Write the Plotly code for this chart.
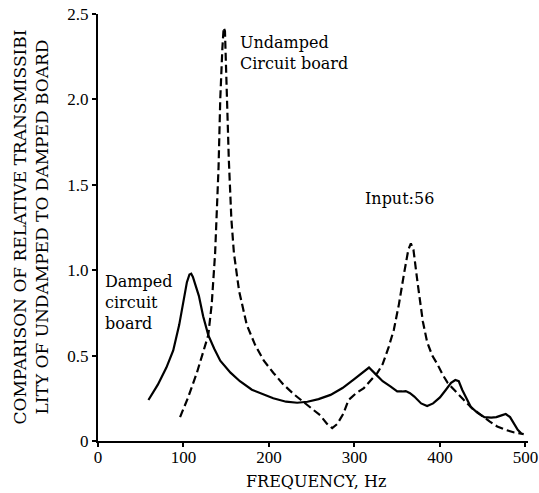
import plotly.graph_objects as go

# Damped circuit board (solid)
damped_freq = [59, 70, 80, 88, 95, 100, 104, 107, 109, 111, 114, 118, 123, 129, 136, 143,
               155, 166, 180, 194, 205, 220, 233, 245, 258, 272, 286, 299, 310, 317, 325,
               333, 342, 350, 356, 360, 365, 370, 378, 385, 392, 400, 407, 413, 418, 422,
               426, 431, 436, 444, 452, 460, 466, 472, 477, 482, 487, 491, 495]
damped_val = [0.24, 0.33, 0.43, 0.53, 0.68, 0.82, 0.93, 0.975, 0.98, 0.96, 0.91, 0.85, 0.73,
              0.62, 0.54, 0.47, 0.40, 0.35, 0.30, 0.27, 0.25, 0.23, 0.224, 0.23, 0.245, 0.27,
              0.31, 0.36, 0.40, 0.43, 0.39, 0.35, 0.32, 0.29, 0.29, 0.292, 0.28, 0.26, 0.22,
              0.205, 0.22, 0.255, 0.30, 0.34, 0.357, 0.35, 0.30, 0.25, 0.20, 0.165, 0.14,
              0.137, 0.14, 0.15, 0.158, 0.14, 0.095, 0.065, 0.045]

# Undamped circuit board (dashed)
undamped_freq = [96, 105, 115.7, 122, 129, 133, 137, 141, 143, 145.5, 147, 148.5, 150.8, 153,
                 156, 159, 165, 174, 184, 194, 205, 217, 230, 243, 252, 260, 268, 274, 280,
                 287, 293, 302, 311, 320, 327, 333, 340, 346, 352, 358, 363, 366, 369, 374,
                 380, 385, 391, 397, 403, 409, 418, 428, 438, 448, 458, 467, 477, 487, 498]
undamped_val = [0.14, 0.25, 0.40, 0.50, 0.62, 0.80, 1.10, 1.60, 2.00, 2.30, 2.42, 2.40, 2.00,
                1.65, 1.30, 1.10, 0.88, 0.68, 0.56, 0.47, 0.40, 0.33, 0.27, 0.22, 0.18, 0.15,
                0.10, 0.075, 0.10, 0.16, 0.24, 0.28, 0.31, 0.36, 0.40, 0.45, 0.55, 0.65, 0.80,
                0.98, 1.12, 1.157, 1.12, 0.92, 0.70, 0.58, 0.50, 0.45, 0.39, 0.34, 0.29, 0.24,
                0.19, 0.15, 0.115, 0.085, 0.065, 0.05, 0.04]

x_ticks = [0, 100, 200, 300, 400, 500]
y_ticks = [0, 0.5, 1.0, 1.5, 2.0, 2.5]
y_tick_labels = ["0", "0.5", "1.0", "1.5", "2.0", "2.5"]

FONT = "DejaVu Serif"
TICK_FONT = dict(family="Liberation Serif", size=17, color="black")

fig = go.Figure()
fig.add_trace(go.Scatter(x=damped_freq, y=damped_val, mode="lines",
                         line=dict(color="black", width=2.2)))
fig.add_trace(go.Scatter(x=undamped_freq, y=undamped_val, mode="lines",
                         line=dict(color="black", width=2.2, dash="8px,4px")))

fig.update_layout(
    width=539, height=493,
    margin=dict(l=98, r=11, t=14, b=52, autoexpand=False),
    paper_bgcolor="white", plot_bgcolor="white",
    showlegend=False,
    font=dict(family=FONT, color="black", size=15),
    xaxis=dict(range=[0, 503], tickvals=x_ticks, showgrid=False, zeroline=False,
               automargin=False,
               showline=True, linecolor="black", linewidth=2,
               ticks="outside", ticklen=4, tickwidth=1.5, tickcolor="black",
               ticklabelstandoff=-4, ticklabeloverflow="allow",
               tickfont=TICK_FONT),
    yaxis=dict(range=[0, 2.5], tickvals=y_ticks, ticktext=y_tick_labels,
               showgrid=False, zeroline=False, automargin=False,
               showline=True, linecolor="black", linewidth=2,
               ticks="outside", ticklen=4, tickwidth=1.5, tickcolor="black",
               tickfont=TICK_FONT),
)

annotations = [
    dict(x=163.7, y=2.40, xref="x", yref="y", text="Undamped<br>Circuit board",
         xanchor="left", yanchor="top", align="left", showarrow=False,
         font=dict(family=FONT, size=16)),
    dict(x=310, y=1.42, xref="x", yref="y", text="Input:56",
         xanchor="left", yanchor="middle", align="left", showarrow=False,
         font=dict(family=FONT, size=16)),
    dict(x=5.8, y=1.0, xref="x", yref="y", text="Damped<br>circuit<br>board",
         xanchor="left", yanchor="top", align="left", showarrow=False,
         font=dict(family=FONT, size=16)),
    dict(x=(316 - 98) / 430, y=-(481 - 441) / 427, xref="paper", yref="paper",
         text="FREQUENCY, Hz", xanchor="center", yanchor="middle", showarrow=False,
         font=dict(family=FONT, size=16)),
    dict(x=(30 - 98) / 430, y=0.5, xref="paper", yref="paper",
         text="COMPARISON OF RELATIVE TRANSMISSIBI<br>LITY OF UNDAMPED TO DAMPED BOARD",
         textangle=-90, xanchor="center", yanchor="middle", showarrow=False,
         font=dict(family=FONT, size=17)),
]
fig.update_layout(annotations=annotations)

fig.write_html("out.html")
